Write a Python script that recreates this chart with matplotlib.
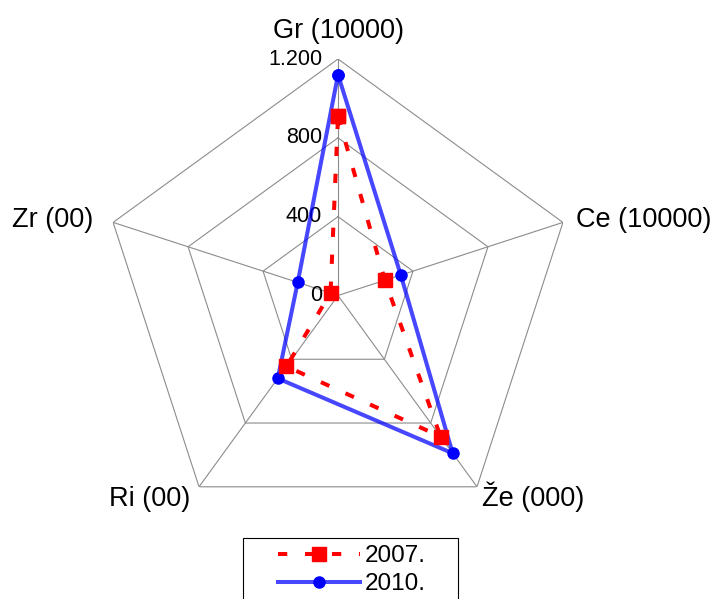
import numpy as np
import matplotlib
matplotlib.use("Agg")
import matplotlib.pyplot as plt
from matplotlib.patches import Rectangle

plt.rcParams['font.family'] = ['Liberation Sans', 'DejaVu Sans']

categories = ['Gr (10000)', 'Ce (10000)', 'Že (000)', 'Ri (00)', 'Zr (00)']
values_2007 = [910, 250, 885, 445, 40]
values_2010 = [1120, 335, 990, 520, 215]
ring_levels = [400, 800, 1200]
ring_labels = ['400', '800', '1.200']
r_max = 1200

# label offsets (pixels) relative to each outer vertex
label_offsets = [(0, 21), (13, -5), (5, -19), (-9, -19), (-20, -5)]
label_ha = ['center', 'left', 'left', 'right', 'right']

fig = plt.figure(figsize=(7.12, 5.99), dpi=100)
ax = fig.add_axes([0.1426, 0.1119, 0.6643, 0.7896], projection='polar')
ax.set_theta_zero_location('N')
ax.set_theta_direction(-1)
ax.set_ylim(0, r_max)
ax.set_axis_off()

n = len(categories)
angles = np.linspace(0, 2 * np.pi, n, endpoint=False)
closed = np.append(angles, angles[0])

# grid: pentagons + spokes
for lev in ring_levels:
    ax.plot(closed, [lev] * (n + 1), color='#8c8c8c', lw=0.8, zorder=1)
for a in angles:
    ax.plot([a, a], [0, r_max], color='#8c8c8c', lw=0.8, zorder=1)

# radial tick labels
for lev, txt in zip([0] + ring_levels, ['0'] + ring_labels):
    ax.annotate(txt, xy=(0, lev), xytext=(-16, 0), textcoords='offset pixels',
                ha='right', va='center', fontsize=15.5, annotation_clip=False)

# category labels
for a, name, off, ha in zip(angles, categories, label_offsets, label_ha):
    ax.annotate(name, xy=(a, r_max), xytext=off, textcoords='offset pixels',
                ha=ha, va='baseline', fontsize=19.5, annotation_clip=False)

v10 = values_2010 + values_2010[:1]
v07 = values_2007 + values_2007[:1]
l10, = ax.plot(closed, v10, color=(0, 0, 1, 0.72), lw=2.9, marker='o',
               markersize=8, markerfacecolor='blue', markeredgecolor='blue',
               label='2010.', zorder=3, clip_on=False)
l07, = ax.plot(closed, v07, color='red', lw=2.9, linestyle=(0, (2.3, 4.4)),
               marker='s', markersize=10, markerfacecolor='red',
               markeredgecolor='red', label='2007.', zorder=4, clip_on=False)

leg = fig.legend(handles=[l07, l10], loc='upper center',
                 bbox_to_anchor=(352 / 712, 1 - 545 / 599), frameon=False,
                 fontsize=17.5, handlelength=3.4, handletextpad=0.2,
                 labelspacing=0.25, borderpad=0, borderaxespad=0)

fig.patches.append(Rectangle((243.3 / 712, (599 - 630) / 599), 214.4 / 712,
                             (630 - 537.7) / 599, transform=fig.transFigure,
                             fill=False, edgecolor='black', lw=0.8))

fig.savefig('out.png', dpi=100)
